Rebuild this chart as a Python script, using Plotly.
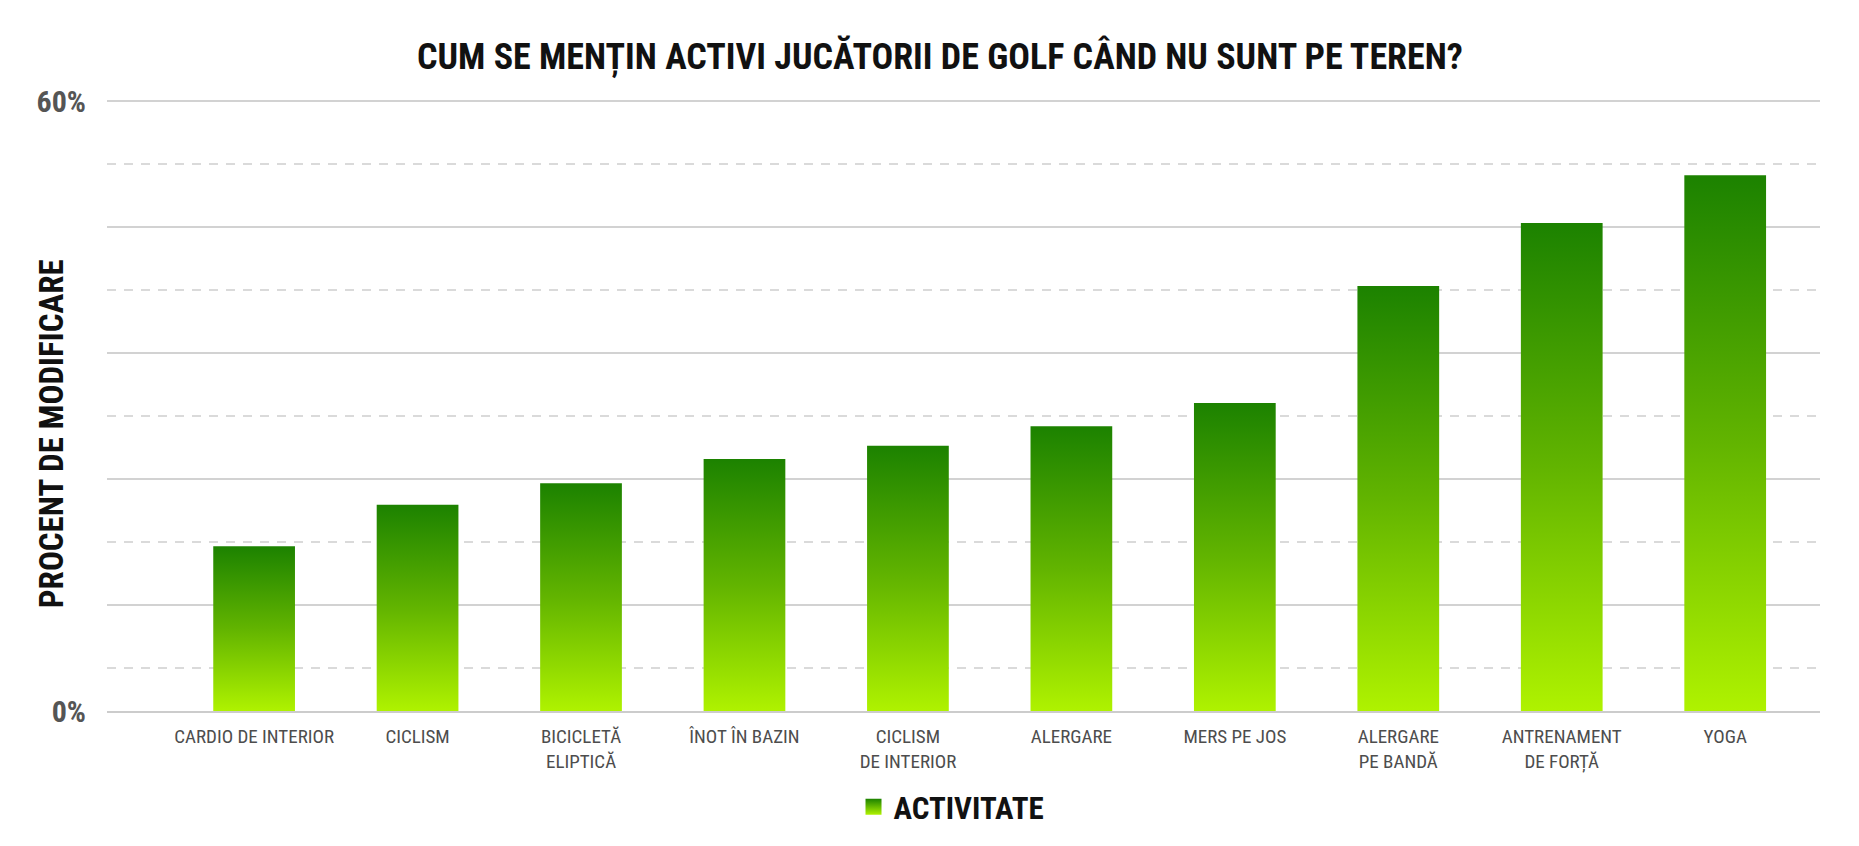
import plotly.graph_objects as go

# data
activities = [
    "CARDIO DE INTERIOR", "CICLISM", "BICICLETĂ<br>ELIPTICĂ", "ÎNOT ÎN BAZIN",
    "CICLISM<br>DE INTERIOR", "ALERGARE", "MERS PE JOS", "ALERGARE<br>PE BANDĂ",
    "ANTRENAMENT<br>DE FORȚĂ", "YOGA",
]
percent_change = [16.2, 20.3, 22.4, 24.8, 26.1, 28.0, 30.3, 41.8, 48.0, 52.7]
y_tick_labels = ["0%", "60%"]

NARROW = "Roboto Condensed, Liberation Sans Narrow, DejaVu Sans Condensed, sans-serif"
BAR_W = 0.5
GRID_STEP = 6.2
Y_MAX = 60
DARK, MID, LIGHT = "#1c8200", "#62b400", "#aff200"

fig = go.Figure()

# one filled trace per bar so every bar gets its own top-to-bottom gradient
for i, (name, val) in enumerate(zip(activities, percent_change)):
    x0, x1 = i - BAR_W / 2, i + BAR_W / 2
    fig.add_trace(go.Scatter(
        x=[x0, x0, x1, x1, x0],
        y=[0, val, val, 0, 0],
        mode="lines",
        line=dict(width=0),
        fill="toself",
        fillgradient=dict(type="vertical",
                          colorscale=[[0, LIGHT], [0.5, MID], [1, DARK]]),
        showlegend=False,
        text=f"{name.replace('<br>', ' ')}: {val}%",
        hoveron="fills",
        hoverinfo="text",
    ))

# legend entry only (no points), gives a square swatch
fig.add_trace(go.Scatter(
    x=[None], y=[None], mode="markers", name="<b>ACTIVITATE</b>",
    marker=dict(symbol="square", size=30, color=DARK,
                gradient=dict(type="vertical", color=LIGHT)),
    hoverinfo="skip",
))

major = [Y_MAX - 2 * GRID_STEP * k for k in range(5)]
minor = [Y_MAX - GRID_STEP * (2 * k + 1) for k in range(5)]

fig.update_layout(
    width=1851, height=838,
    margin=dict(l=99, r=39, t=91, b=133),
    paper_bgcolor="white", plot_bgcolor="white",
    font=dict(family=NARROW, color="#4d4d4d"),
    annotations=[
        dict(text="<b>CUM SE MENȚIN ACTIVI JUCĂTORII DE GOLF CÂND NU SUNT PE TEREN?</b>",
             xref="paper", yref="paper", x=0.486, y=1.0 + 42 / 612,
             xanchor="center", yanchor="middle", showarrow=False,
             font=dict(family=NARROW, size=36, color="#111111")),
        dict(text="<b>PROCENT DE MODIFICARE</b>", textangle=-90,
             xref="paper", yref="paper", x=-0.0327, y=0.454,
             xanchor="center", yanchor="middle", showarrow=False,
             font=dict(family=NARROW, size=33, color="#111111")),
    ],
    legend=dict(orientation="h", x=0.493, y=-0.157, xanchor="center", yanchor="middle",
                font=dict(family=NARROW, size=31, color="#111111"),
                bgcolor="rgba(0,0,0,0)"),
    showlegend=True,
    hovermode="closest",
)

fig.update_xaxes(
    range=[-0.9, 9.58],
    tickmode="array", tickvals=list(range(len(activities))), ticktext=activities,
    tickfont=dict(size=19, color="#4d4d4d"),
    showgrid=False, zeroline=False,
    showline=True, linecolor="#cccccc", linewidth=2,
    ticks="", ticklabelstandoff=7,
    fixedrange=True,
)

fig.update_yaxes(
    range=[0, Y_MAX + 0.2],
    tickmode="array", tickvals=[0] + major,
    ticktext=[y_tick_labels[0], y_tick_labels[1]] + [""] * (len(major) - 1),
    tickfont=dict(size=30, color="#555555", weight="bold"),
    showgrid=True, gridcolor="#d2d2d2", gridwidth=2,
    zeroline=False, ticks="", ticklabelstandoff=20,
    minor=dict(tickvals=minor, showgrid=True, gridcolor="#dadada", gridwidth=2,
               griddash="9px,8px", ticks=""),
    fixedrange=True,
)

fig.write_html("out.html")
